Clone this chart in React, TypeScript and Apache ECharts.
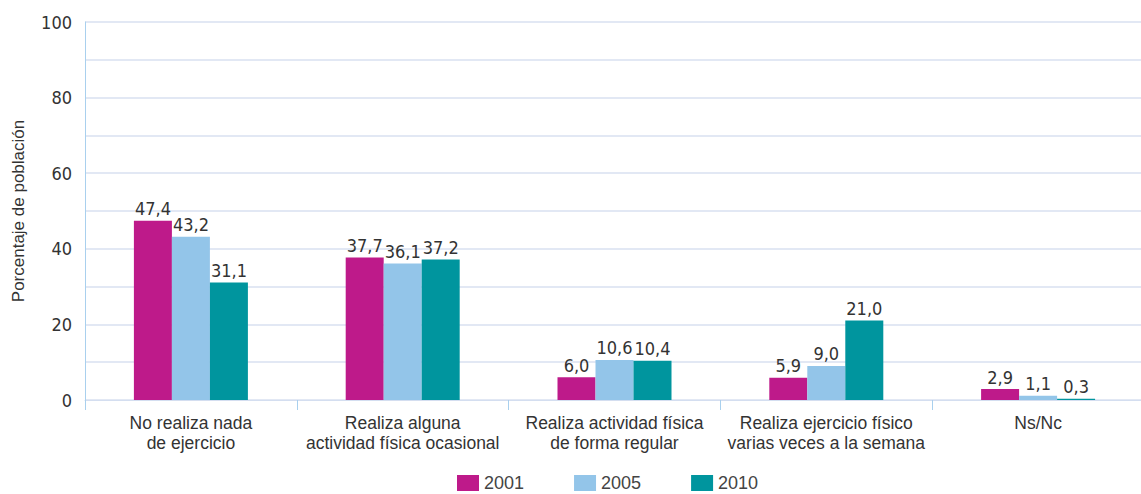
import React, { useEffect, useRef } from "react";
import * as echarts from "echarts";

const categories = [
  "No realiza nada\nde ejercicio",
  "Realiza alguna\nactividad física ocasional",
  "Realiza actividad física\nde forma regular",
  "Realiza ejercicio físico\nvarias veces a la semana",
  "Ns/Nc",
];
const years = ["2001", "2005", "2010"];
const values2001 = [47.4, 37.7, 6.0, 5.9, 2.9];
const values2005 = [43.2, 36.1, 10.6, 9.0, 1.1];
const values2010 = [31.1, 37.2, 10.4, 21.0, 0.3];
const colors = ["#be1a8a", "#93c5e9", "#00959e"];

const narrow = "'DejaVu Sans Condensed', 'Liberation Sans Narrow', sans-serif";
const sans = "'Liberation Sans', Arial, sans-serif";

export default function App() {
  const ref = useRef<HTMLDivElement>(null);
  useEffect(() => {
    const chart = echarts.init(ref.current!, null, { renderer: "svg" });
    const seriesData = [values2001, values2005, values2010];
    chart.setOption({
      animation: false,
      legend: {
        bottom: 2,
        left: 457,
        padding: 0,
        itemWidth: 22,
        itemHeight: 16,
        itemGap: 50,
        icon: "rect",
        textStyle: { fontFamily: sans, fontSize: 18, color: "#444" },
        data: years,
      },
      grid: { left: 85, right: -3, top: 22, bottom: 94, outerBoundsMode: "none", containLabel: false },
      xAxis: {
        type: "category",
        data: categories,
        axisLine: { lineStyle: { color: "#d4def0", width: 1 } },
        axisTick: { show: true, length: 10, lineStyle: { color: "#a9d0ee" } },
        axisLabel: {
          fontFamily: sans,
          fontSize: 17.5,
          color: "#333",
          lineHeight: 20,
          margin: 13,
          interval: 0,
        },
      },
      yAxis: {
        type: "value",
        min: 0,
        max: 100,
        interval: 10,
        name: "Porcentaje de población",
        nameLocation: "middle",
        nameGap: 58,
        nameTextStyle: { fontFamily: sans, fontSize: 17, color: "#333" },
        axisLine: { show: true, lineStyle: { color: "#a9d0ee" } },
        axisTick: { show: false },
        splitLine: { lineStyle: { color: "#d9e1f1", width: 1.5 } },
        axisLabel: {
          fontFamily: narrow,
          fontSize: 18,
          color: "#333",
          margin: 13,
          formatter: (v: number) => (v % 20 === 0 ? String(v) : ""),
        },
      },
      series: years.map((y, i) => ({
        name: y,
        type: "bar",
        data: seriesData[i],
        barWidth: 38,
        barGap: "0%",
        itemStyle: { color: colors[i] },
        label: {
          show: true,
          position: "top",
          distance: 3,
          fontFamily: narrow,
          fontSize: 18,
          color: "#333",
          formatter: (p: any) => p.value.toFixed(1).replace(".", ","),
        },
      })),
    });
    return () => chart.dispose();
  }, []);
  return (
    <div
      ref={ref}
      style={{ position: "absolute", left: 0, top: 0, width: 1141, height: 494, background: "#fff" }}
    />
  );
}
